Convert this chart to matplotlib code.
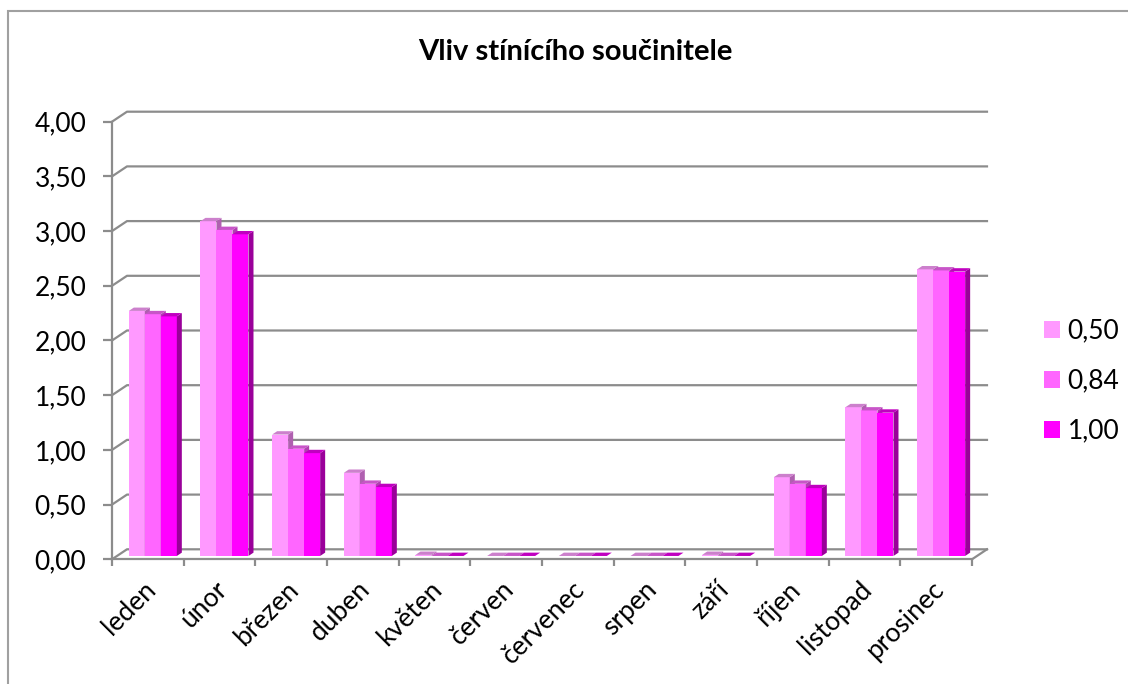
import numpy as np
import matplotlib.pyplot as plt
from matplotlib.patches import Polygon, Rectangle
from matplotlib.ticker import FuncFormatter

plt.rcParams['font.family'] = ['Lato', 'DejaVu Sans']

months = ["leden", "únor", "březen", "duben", "květen", "červen",
          "červenec", "srpen", "září", "říjen", "listopad", "prosinec"]
series = ["0,50", "0,84", "1,00"]
s050 = [2.24, 3.06, 1.11, 0.76, 0.01, 0.00, 0.00, 0.00, 0.01, 0.72, 1.36, 2.62]
s084 = [2.21, 2.98, 0.98, 0.66, 0.00, 0.00, 0.00, 0.00, 0.00, 0.66, 1.33, 2.61]
s100 = [2.19, 2.94, 0.94, 0.63, 0.00, 0.00, 0.00, 0.00, 0.00, 0.62, 1.31, 2.60]
values = [s050, s084, s100]

colors = ["#ff99ff", "#ff66ff", "#ff00ff"]
tops = ["#cc80cc", "#c855c8", "#c000c0"]
sides = ["#b060b0", "#b040b0", "#9a009a"]
grid = "#8c8c8c"

# depth of the floor in data units (x in categories, y in values)
DX = 0.209
DY = 0.0914
# bars stand in the middle third of the depth
BDX = DX / 3
BDY = DY / 3
w = 0.2233

fig = plt.figure(figsize=(11.28, 6.84), dpi=100)
ax = fig.add_axes([112 / 1128, (684 - 559.3) / 684, 860 / 1128, 437.6 / 684])
ax.set_xlim(0, 12)
ax.set_ylim(0, 4)

# back wall grid with the short side-wall diagonals
for v in np.arange(0, 4.01, 0.5):
    ax.plot([0, DX, 12 + DX], [v, v + DY, v + DY], color=grid, lw=1.6,
            clip_on=False, zorder=1)
ax.plot([12, 12 + DX], [0, DY], color=grid, lw=1.6, clip_on=False, zorder=1)

z = 2
handles = []
for i in range(12):
    for j in range(3):
        v = values[j][i]
        x0 = i + 0.5 + BDX + (j - 1.5) * w
        x1 = x0 + w
        b = BDY
        bar = ax.bar(x0, v, width=w, bottom=b, align='edge', color=colors[j],
                     linewidth=0, zorder=z)
        if i == 0:
            handles.append(bar)
        side = Polygon([(x1, b), (x1 + BDX, b + BDY), (x1 + BDX, b + v + BDY), (x1, b + v)],
                       closed=True, facecolor=sides[j], edgecolor='none', zorder=z)
        top = Polygon([(x0, b + v), (x1, b + v), (x1 + BDX, b + v + BDY), (x0 + BDX, b + v + BDY)],
                      closed=True, facecolor=tops[j], edgecolor='none', zorder=z)
        ax.add_patch(side)
        ax.add_patch(top)
        z += 1

for s in ["top", "right"]:
    ax.spines[s].set_visible(False)
for s in ["left", "bottom"]:
    ax.spines[s].set_color(grid)
    ax.spines[s].set_linewidth(1.6)
    ax.spines[s].set_zorder(z + 1)

ax.set_yticks(np.arange(0, 4.01, 0.5))
ax.yaxis.set_major_formatter(FuncFormatter(lambda v, p: f"{v:.2f}".replace(".", ",")))
ax.tick_params(axis='y', direction='out', length=6.5, width=1.6, color=grid,
               pad=12, labelsize=19)
ax.set_xticks(np.arange(13))
ax.set_xticklabels([])
ax.tick_params(axis='x', direction='out', length=5.3, width=1.6, color=grid)

for i, m in enumerate(months):
    ax.text(i + 0.55, -0.24, m, rotation=45, ha='right', va='center',
            rotation_mode='anchor', fontsize=19)

fig.text(0.51, 1 - 52 / 684, "Vliv stínícího součinitele", ha='center', va='center',
         fontsize=21, fontweight='bold')

fig.legend(handles, series, loc='center left', bbox_to_anchor=(1044 / 1128, 1 - 381 / 684),
           frameon=False, fontsize=19, handlelength=0.6, handleheight=0.6,
           handletextpad=0.3, labelspacing=0.95, borderpad=0, borderaxespad=0)

fig.patches.append(Rectangle((8 / 1128, -0.1), 1.2, 1.1 - 11 / 684, transform=fig.transFigure,
                             facecolor='none', edgecolor='#a0a0a0', lw=1.5))

fig.savefig("out.png", dpi=100)
